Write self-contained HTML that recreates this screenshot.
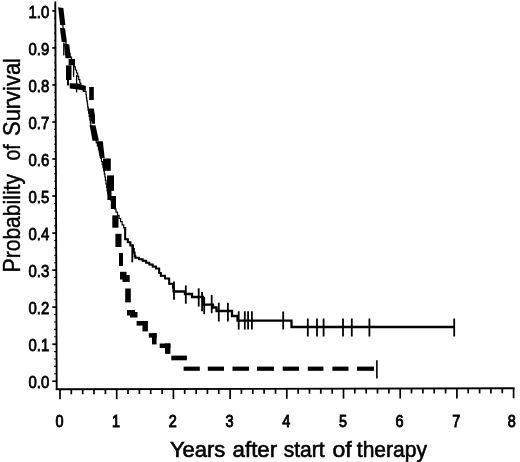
<!DOCTYPE html>
<html><head><meta charset="utf-8"><title>Survival</title>
<style>html,body{margin:0;padding:0;background:#fff}svg{display:block}text{font-family:"Liberation Sans",Arial,sans-serif;fill:#000}</style></head><body>
<svg width="520" height="462" viewBox="0 0 520 462">
<rect width="520" height="462" fill="#fff"/>
<g stroke="#000" stroke-width="1.9" fill="none">
<line x1="55.3" y1="1.5" x2="56.7" y2="390"/>
<line x1="55.8" y1="389.3" x2="514.6" y2="388.3"/>
</g>
<g stroke="#000" stroke-width="1.7" fill="none">
<line x1="52.3" y1="381.2" x2="56" y2="381.2"/>
<line x1="52.3" y1="344.2" x2="56" y2="344.2"/>
<line x1="52.3" y1="307.1" x2="56" y2="307.1"/>
<line x1="52.3" y1="270.1" x2="56" y2="270.1"/>
<line x1="52.3" y1="233.1" x2="56" y2="233.1"/>
<line x1="52.3" y1="196.0" x2="56" y2="196.0"/>
<line x1="52.3" y1="159.0" x2="56" y2="159.0"/>
<line x1="52.3" y1="122.0" x2="56" y2="122.0"/>
<line x1="52.3" y1="85.0" x2="56" y2="85.0"/>
<line x1="52.3" y1="47.9" x2="56" y2="47.9"/>
<line x1="52.3" y1="10.9" x2="56" y2="10.9"/>
<line x1="60.0" y1="389.3" x2="60.0" y2="399.3"/>
<line x1="71.3" y1="389.3" x2="71.3" y2="394.3"/>
<line x1="82.7" y1="389.2" x2="82.7" y2="394.2"/>
<line x1="94.0" y1="389.2" x2="94.0" y2="394.2"/>
<line x1="105.4" y1="389.2" x2="105.4" y2="394.2"/>
<line x1="116.7" y1="389.2" x2="116.7" y2="399.2"/>
<line x1="128.0" y1="389.1" x2="128.0" y2="394.1"/>
<line x1="139.4" y1="389.1" x2="139.4" y2="394.1"/>
<line x1="150.7" y1="389.1" x2="150.7" y2="394.1"/>
<line x1="162.1" y1="389.1" x2="162.1" y2="394.1"/>
<line x1="173.4" y1="389.0" x2="173.4" y2="399.0"/>
<line x1="184.7" y1="389.0" x2="184.7" y2="394.0"/>
<line x1="196.1" y1="389.0" x2="196.1" y2="394.0"/>
<line x1="207.4" y1="389.0" x2="207.4" y2="394.0"/>
<line x1="218.8" y1="388.9" x2="218.8" y2="393.9"/>
<line x1="230.1" y1="388.9" x2="230.1" y2="398.9"/>
<line x1="241.4" y1="388.9" x2="241.4" y2="393.9"/>
<line x1="252.8" y1="388.9" x2="252.8" y2="393.9"/>
<line x1="264.1" y1="388.8" x2="264.1" y2="393.8"/>
<line x1="275.5" y1="388.8" x2="275.5" y2="393.8"/>
<line x1="286.8" y1="388.8" x2="286.8" y2="398.8"/>
<line x1="298.1" y1="388.8" x2="298.1" y2="393.8"/>
<line x1="309.5" y1="388.7" x2="309.5" y2="393.7"/>
<line x1="320.8" y1="388.7" x2="320.8" y2="393.7"/>
<line x1="332.2" y1="388.7" x2="332.2" y2="393.7"/>
<line x1="343.5" y1="388.7" x2="343.5" y2="398.7"/>
<line x1="354.8" y1="388.6" x2="354.8" y2="393.6"/>
<line x1="366.2" y1="388.6" x2="366.2" y2="393.6"/>
<line x1="377.5" y1="388.6" x2="377.5" y2="393.6"/>
<line x1="388.9" y1="388.6" x2="388.9" y2="393.6"/>
<line x1="400.2" y1="388.5" x2="400.2" y2="398.5"/>
<line x1="411.5" y1="388.5" x2="411.5" y2="393.5"/>
<line x1="422.9" y1="388.5" x2="422.9" y2="393.5"/>
<line x1="434.2" y1="388.5" x2="434.2" y2="393.5"/>
<line x1="445.6" y1="388.5" x2="445.6" y2="393.5"/>
<line x1="456.9" y1="388.4" x2="456.9" y2="398.4"/>
<line x1="468.2" y1="388.4" x2="468.2" y2="393.4"/>
<line x1="479.6" y1="388.4" x2="479.6" y2="393.4"/>
<line x1="490.9" y1="388.4" x2="490.9" y2="393.4"/>
<line x1="502.3" y1="388.3" x2="502.3" y2="393.3"/>
<line x1="513.6" y1="388.3" x2="513.6" y2="398.3"/>
</g>
<g stroke="#000" stroke-width="1.1">
<line x1="54.2" y1="373.8" x2="56" y2="373.8"/>
<line x1="54.2" y1="366.4" x2="56" y2="366.4"/>
<line x1="54.2" y1="359.0" x2="56" y2="359.0"/>
<line x1="54.2" y1="351.6" x2="56" y2="351.6"/>
<line x1="54.2" y1="336.8" x2="56" y2="336.8"/>
<line x1="54.2" y1="329.4" x2="56" y2="329.4"/>
<line x1="54.2" y1="322.0" x2="56" y2="322.0"/>
<line x1="54.2" y1="314.5" x2="56" y2="314.5"/>
<line x1="54.2" y1="299.7" x2="56" y2="299.7"/>
<line x1="54.2" y1="292.3" x2="56" y2="292.3"/>
<line x1="54.2" y1="284.9" x2="56" y2="284.9"/>
<line x1="54.2" y1="277.5" x2="56" y2="277.5"/>
<line x1="54.2" y1="262.7" x2="56" y2="262.7"/>
<line x1="54.2" y1="255.3" x2="56" y2="255.3"/>
<line x1="54.2" y1="247.9" x2="56" y2="247.9"/>
<line x1="54.2" y1="240.5" x2="56" y2="240.5"/>
<line x1="54.2" y1="225.7" x2="56" y2="225.7"/>
<line x1="54.2" y1="218.3" x2="56" y2="218.3"/>
<line x1="54.2" y1="210.9" x2="56" y2="210.9"/>
<line x1="54.2" y1="203.5" x2="56" y2="203.5"/>
<line x1="54.2" y1="188.6" x2="56" y2="188.6"/>
<line x1="54.2" y1="181.2" x2="56" y2="181.2"/>
<line x1="54.2" y1="173.8" x2="56" y2="173.8"/>
<line x1="54.2" y1="166.4" x2="56" y2="166.4"/>
<line x1="54.2" y1="151.6" x2="56" y2="151.6"/>
<line x1="54.2" y1="144.2" x2="56" y2="144.2"/>
<line x1="54.2" y1="136.8" x2="56" y2="136.8"/>
<line x1="54.2" y1="129.4" x2="56" y2="129.4"/>
<line x1="54.2" y1="114.6" x2="56" y2="114.6"/>
<line x1="54.2" y1="107.2" x2="56" y2="107.2"/>
<line x1="54.2" y1="99.8" x2="56" y2="99.8"/>
<line x1="54.2" y1="92.4" x2="56" y2="92.4"/>
<line x1="54.2" y1="77.6" x2="56" y2="77.6"/>
<line x1="54.2" y1="70.1" x2="56" y2="70.1"/>
<line x1="54.2" y1="62.7" x2="56" y2="62.7"/>
<line x1="54.2" y1="55.3" x2="56" y2="55.3"/>
<line x1="54.2" y1="40.5" x2="56" y2="40.5"/>
<line x1="54.2" y1="33.1" x2="56" y2="33.1"/>
<line x1="54.2" y1="25.7" x2="56" y2="25.7"/>
<line x1="54.2" y1="18.3" x2="56" y2="18.3"/>
</g>
<g font-size="17" stroke="#000" stroke-width="0.8" text-anchor="end">
<text transform="translate(49.3,388.2) scale(0.88,1)">0.0</text>
<text transform="translate(49.3,351.2) scale(0.88,1)">0.1</text>
<text transform="translate(49.3,314.1) scale(0.88,1)">0.2</text>
<text transform="translate(49.3,277.1) scale(0.88,1)">0.3</text>
<text transform="translate(49.3,240.1) scale(0.88,1)">0.4</text>
<text transform="translate(49.3,203.0) scale(0.88,1)">0.5</text>
<text transform="translate(49.3,166.0) scale(0.88,1)">0.6</text>
<text transform="translate(49.3,129.0) scale(0.88,1)">0.7</text>
<text transform="translate(49.3,92.0) scale(0.88,1)">0.8</text>
<text transform="translate(49.3,54.9) scale(0.88,1)">0.9</text>
<text transform="translate(49.3,17.9) scale(0.88,1)">1.0</text>
</g>
<g font-size="16.4" stroke="#000" stroke-width="0.9" text-anchor="middle">
<text transform="translate(59.4,426.8) scale(0.88,1)">0</text>
<text transform="translate(116.1,426.8) scale(0.88,1)">1</text>
<text transform="translate(172.8,426.8) scale(0.88,1)">2</text>
<text transform="translate(229.5,426.8) scale(0.88,1)">3</text>
<text transform="translate(286.2,426.8) scale(0.88,1)">4</text>
<text transform="translate(342.9,426.8) scale(0.88,1)">5</text>
<text transform="translate(399.6,426.8) scale(0.88,1)">6</text>
<text transform="translate(456.3,426.8) scale(0.88,1)">7</text>
<text transform="translate(511.8,426.8) scale(0.88,1)">8</text>
</g>
<g font-size="21.3" stroke="#000" stroke-width="0.6">
<text x="169.9" y="457.2" textLength="55.5" lengthAdjust="spacingAndGlyphs">Years</text>
<text x="232.6" y="457.2" textLength="44.5" lengthAdjust="spacingAndGlyphs">after</text>
<text x="283.7" y="457.2" textLength="40.9" lengthAdjust="spacingAndGlyphs">start</text>
<text x="332.4" y="457.2" textLength="19.2" lengthAdjust="spacingAndGlyphs">of</text>
<text x="356.8" y="457.2" textLength="70.1" lengthAdjust="spacingAndGlyphs">therapy</text>
</g>
<g font-size="23.6" stroke="#000" stroke-width="0.45">
<text transform="translate(19.7,272.4) rotate(-90)" textLength="98.4" lengthAdjust="spacingAndGlyphs">Probability</text>
<text transform="translate(19.7,160.5) rotate(-90)" textLength="16.1" lengthAdjust="spacingAndGlyphs">of</text>
<text transform="translate(19.7,136) rotate(-90)" textLength="78" lengthAdjust="spacingAndGlyphs">Survival</text>
</g>
<g fill="#000">
<polygon points="58.1,7.3 63.3,8.1 65.4,24.9 60.2,24.9"/>
<polygon points="59.9,27.8 65.1,28.6 66.9,41.9 61.7,41.9"/>
<polygon points="63.9,43.6 69.3,44.4 70.9,58.2 65.5,58.2"/>
<rect x="68.6" y="59.0" width="6.4" height="6.2"/>
<rect x="66.0" y="65.4" width="5.5" height="14.6"/>
<rect x="67.0" y="80.0" width="2.0" height="5.4"/>
<rect x="89.2" y="87.0" width="4.6" height="13.0"/>
<rect x="103.0" y="158.5" width="7.8" height="12.3"/>
<rect x="107.0" y="175.4" width="7.0" height="15.4"/>
<rect x="107.4" y="190.0" width="4.1" height="10.0"/>
<rect x="110.8" y="196.0" width="5.2" height="13.0"/>
<rect x="112.3" y="215.4" width="6.2" height="12.3"/>
<rect x="115.4" y="233.8" width="6.1" height="13.2"/>
<rect x="119.0" y="253.0" width="4.0" height="13.0"/>
<rect x="120.0" y="271.8" width="6.5" height="7.7"/>
<rect x="122.5" y="275.0" width="7.2" height="6.9"/>
<rect x="125.2" y="288.5" width="5.6" height="13.9"/>
<rect x="127.0" y="310.0" width="8.0" height="5.5"/>
<rect x="130.0" y="312.0" width="7.5" height="5.5"/>
<rect x="136.6" y="321.0" width="10.4" height="4.6"/>
<rect x="142.5" y="321.0" width="5.4" height="10.4"/>
<rect x="148.8" y="333.1" width="7.8" height="4.5"/>
<rect x="152.0" y="333.1" width="4.6" height="11.3"/>
<rect x="159.7" y="343.5" width="10.7" height="4.5"/>
<rect x="165.0" y="343.5" width="5.4" height="10.4"/>
<rect x="171.3" y="355.6" width="15.6" height="4.7"/>
<rect x="183.6" y="366.6" width="16.2" height="4.2"/>
<rect x="207.8" y="366.6" width="16.2" height="4.2"/>
<rect x="232.5" y="366.6" width="16.5" height="4.2"/>
<rect x="257.0" y="366.6" width="17.0" height="4.2"/>
<rect x="282.7" y="366.6" width="16.3" height="4.2"/>
<rect x="307.8" y="366.6" width="15.6" height="4.2"/>
<rect x="332.4" y="366.6" width="16.1" height="4.2"/>
<rect x="357.0" y="366.6" width="17.0" height="4.2"/>
</g>
<polygon points="69.7,83.2 78,83.6 85.8,86 85.8,91 78,89.6 69.7,88.6" fill="#000"/>
<polygon points="87.4,108.5 93.8,108.5 95,116 95,123.8 92,123.8" fill="#000"/>
<polygon points="89.6,125.2 95.5,125.2 98.9,140.8 92.5,140.8" fill="#000"/>
<polygon points="96.9,141.3 102.8,141.3 104.7,157.9 99.9,157.9" fill="#000"/>
<path d="M63.8 42.5V55.6M73.6 64.9V77M76.6 75V92.5" stroke="#000" stroke-width="1.3" fill="none"/>
<line x1="376.9" y1="360.3" x2="376.9" y2="378.4" stroke="#000" stroke-width="1.6"/>
<path d="M60.0 11.0 L60.0 14.5L60.8 14.5 L60.8 18.0L61.5 18.0 L61.5 21.5L62.2 21.5 L62.2 25.0L63.0 25.0 L63.0 28.4L63.6 28.4 L63.6 31.8L64.2 31.8 L64.2 35.2L64.8 35.2 L64.8 38.6L65.4 38.6 L65.4 42.0L66.0 42.0 L66.0 46.0L67.2 46.0 L67.2 50.0L68.5 50.0 L68.5 53.6L70.0 53.6 L70.0 57.2L71.5 57.2 L71.5 60.8L73.0 60.8 L73.0 63.8L74.2 63.8 L74.2 66.9L75.3 66.9 L75.3 70.0L76.5 70.0 L76.5 73.0L77.7 73.0 L77.7 76.3L78.7 76.3 L78.7 79.7L79.8 79.7 L79.8 83.0L80.8 83.0 L80.8 87.2L83.4 87.2 L83.4 91.5L86.0 91.5 L86.0 94.6L86.4 94.6 L86.4 97.8L86.8 97.8 L86.8 100.9L87.3 100.9 L87.3 104.0L87.7 104.0 L87.7 107.2L88.2 107.2 L88.2 110.3L88.7 110.3 L88.7 113.5L89.2 113.5 L89.2 116.7L89.8 116.7 L89.8 119.8L90.3 119.8 L90.3 123.0L90.8 123.0 L90.8 126.9L91.9 126.9 L91.9 130.8L93.0 130.8 L93.0 133.8L94.1 133.8 L94.1 136.9L95.2 136.9 L95.2 139.9L96.3 139.9 L96.3 143.0L97.4 143.0 L97.4 146.0L98.5 146.0 L98.5 149.1L99.3 149.1 L99.3 152.2L100.0 152.2 L100.0 155.3L100.8 155.3 L100.8 158.4L101.5 158.4 L101.5 161.5L102.3 161.5 L102.3 164.6L103.0 164.6 L103.0 167.7L103.8 167.7 L103.8 170.8L104.3 170.8 L104.3 173.9L104.9 173.9 L104.9 177.0L105.4 177.0 L105.4 180.4L106.0 180.4 L106.0 183.9L106.6 183.9 L106.6 187.4L107.1 187.4 L107.1 190.8L107.7 190.8 L107.7 193.8L109.1 193.8 L109.1 196.9L110.5 196.9 L110.5 199.9L111.8 199.9 L111.8 202.9L113.2 202.9 L113.2 206.0L114.6 206.0 L114.6 209.0L116.0 209.0 L116.0 212.2L117.5 212.2 L117.5 215.3L119.1 215.3 L119.1 218.5L120.6 218.5 L120.6 221.7L122.1 221.7 L122.1 224.8L123.7 224.8 L123.7 228.0L125.2 228.0 L125.2 232.1L125.2 232.1 L125.2 236.2L125.2 236.2 L125.2 239.3L127.8 239.3 L127.8 242.3L130.4 242.3 L130.4 245.4L133.0 245.4 L133.0 249.0L133.8 249.0 L133.8 252.6L134.6 252.6 L134.6 256.2L135.4 256.2 L135.4 257.7L139.0 257.7 L139.0 259.3L142.6 259.3 L142.6 260.8L146.2 260.8 L146.2 262.7L149.4 262.7 L149.4 264.6L152.7 264.6 L152.7 266.6L155.9 266.6 L155.9 268.5L159.2 268.5 L159.2 273.0L160.8 273.0 L160.8 275.8L165.0 275.8 L165.0 278.5L169.2 278.5 L169.2 283.8L173.0 283.8 L173.0 287.6L173.5 287.6 L173.5 291.5L174.0 291.5" stroke="#000" stroke-width="1.2" fill="none"/>
<path d="M125.2 228.0L125.2 232.1L125.2 232.1 M125.2 232.1L125.2 236.2L125.2 236.2 M125.2 236.2L125.2 239.3L127.8 239.3 M127.8 239.3L127.8 242.3L130.4 242.3 M130.4 242.3L130.4 245.4L133.0 245.4 M133.0 245.4L133.0 249.0L133.8 249.0 M133.8 249.0L133.8 252.6L134.6 252.6 M134.6 252.6L134.6 256.2L135.4 256.2 M135.4 256.2L135.4 257.7L139.0 257.7 M139.0 257.7L139.0 259.3L142.6 259.3 M142.6 259.3L142.6 260.8L146.2 260.8 M146.2 260.8L146.2 262.7L149.4 262.7 M149.4 262.7L149.4 264.6L152.7 264.6 M152.7 264.6L152.7 266.6L155.9 266.6 M155.9 266.6L155.9 268.5L159.2 268.5 M159.2 268.5L159.2 273.0L160.8 273.0 M160.8 273.0L160.8 275.8L165.0 275.8 M165.0 275.8L165.0 278.5L169.2 278.5 M169.2 278.5L169.2 283.8L173.0 283.8 M173.0 283.8L173.0 287.6L173.5 287.6 M173.5 287.6L173.5 291.5L174.0 291.5" stroke="#000" stroke-width="2" stroke-linecap="square" fill="none"/>
<path d="M174 291.5 L185 291.5 L185 294 L192 294 L192 297 L203 297 L203 304.6 L213 304.6 L213 307.5 L216.5 307.5 L216.5 311 L232 311 L232 316 L237.5 316 L237.5 320.7 L291.5 320.7 L291.5 327 L454.2 327" stroke="#000" stroke-width="2.3" fill="none"/>
<g stroke="#000" stroke-width="1.8">
<line x1="132.3" y1="244.6" x2="132.3" y2="262.3"/>
<line x1="174" y1="281.5" x2="174" y2="299.8"/>
<line x1="185.8" y1="285.4" x2="185.8" y2="303.7"/>
<line x1="198.7" y1="288.3" x2="198.7" y2="306.5"/>
<line x1="202.1" y1="292" x2="202.1" y2="311.3"/>
<line x1="204.2" y1="297" x2="204.2" y2="314.2"/>
<line x1="211.7" y1="295" x2="211.7" y2="313.3"/>
<line x1="218.8" y1="302.7" x2="218.8" y2="321.5"/>
<line x1="227.9" y1="302.7" x2="227.9" y2="321.5"/>
<line x1="238.7" y1="311.3" x2="238.7" y2="329.6"/>
<line x1="244.8" y1="311.3" x2="244.8" y2="329.6"/>
<line x1="248.1" y1="311.3" x2="248.1" y2="329.6"/>
<line x1="251.9" y1="311.3" x2="251.9" y2="329.6"/>
<line x1="283.2" y1="311.5" x2="283.2" y2="329.5"/>
<line x1="307.8" y1="318.5" x2="307.8" y2="336.5"/>
<line x1="317" y1="318.5" x2="317" y2="336.5"/>
<line x1="323.6" y1="318.5" x2="323.6" y2="336.5"/>
<line x1="343" y1="318.5" x2="343" y2="336.5"/>
<line x1="351.8" y1="318.5" x2="351.8" y2="336.5"/>
<line x1="369.4" y1="318.5" x2="369.4" y2="336.5"/>
<line x1="454.2" y1="318.5" x2="454.2" y2="336.5"/>
</g>
</svg></body></html>
